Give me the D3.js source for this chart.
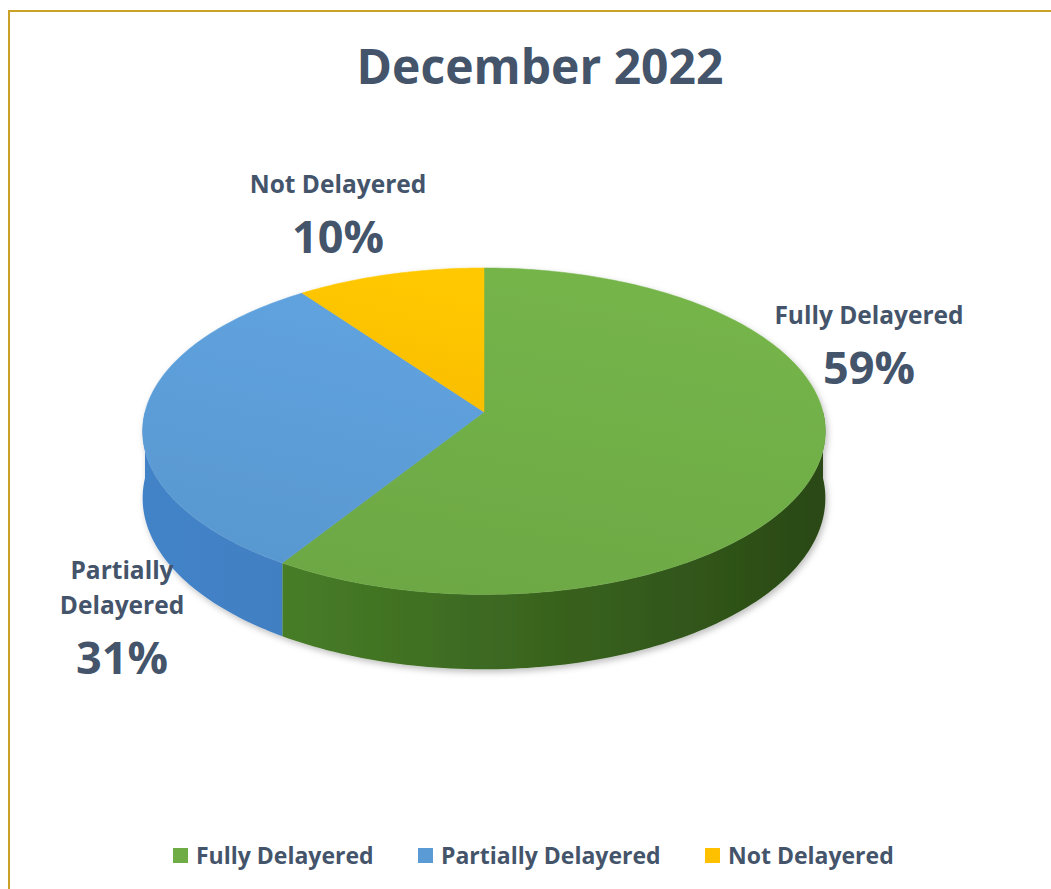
<!doctype html>
<html>
<head>
<meta charset="utf-8">
<style>
  body { margin: 0; background: #fff; }
  text { font-family: "Open Sans", Lato, sans-serif; font-weight: bold; fill: #44546A; }
</style>
</head>
<body>
<svg width="1051" height="889"></svg>
<script src="https://d3js.org/d3.v7.min.js"></script>
<script>
// data
var categories = ["Fully Delayered", "Partially Delayered", "Not Delayered"];
var values = [59, 31, 10];
var topColors = ["#6FAC46", "#5B9BD5", "#FFC000"];
var sideColors = [["#4f8a2b", "#2a4916"], ["#4383c8", "#3a70ab"], ["#c99700", "#a87e00"]];
var labelLines = [["Fully Delayered"], ["Partially", "Delayered"], ["Not Delayered"]];
var title = "December 2022";

var svg = d3.select("svg");
var defs = svg.append("defs");

// frame
svg.append("rect")
    .attr("x", 9).attr("y", 11)
    .attr("width", 1100).attr("height", 1000)
    .attr("fill", "none")
    .attr("stroke", "#C9A227")
    .attr("stroke-width", 2);

svg.append("text")
    .attr("x", 540).attr("y", 84)
    .attr("text-anchor", "middle")
    .style("font-size", "48px")
    .text(title);

// pie geometry, with a little perspective (back narrower than front)
var cx = 484, cy = 412, rx = 339, ry = 161, depth = 66, D = 8.5;

function pt(a, down) {
  var s = D / (D + Math.cos(a));
  return [cx + rx * Math.sin(a) * s, cy - ry * Math.cos(a) * s + (down ? depth * s : 0)];
}

function arcPts(a0, a1, down) {
  var n = Math.max(2, Math.ceil(Math.abs(a1 - a0) / 0.02));
  return d3.range(n + 1).map(function(k) { return pt(a0 + (a1 - a0) * k / n, down); });
}

var line = d3.line();
var pie = d3.pie().sort(null).value(function(d) { return d; });
var arcs = pie(values);

// gradients
arcs.forEach(function(d, i) {
  var g = defs.append("linearGradient").attr("id", "side" + i)
      .attr("gradientUnits", "userSpaceOnUse")
      .attr("x1", cx - rx).attr("y1", 0).attr("x2", cx + rx).attr("y2", 0);
  g.append("stop").attr("offset", "0%").attr("stop-color", sideColors[i][0]);
  g.append("stop").attr("offset", "100%").attr("stop-color", sideColors[i][1]);

  var t = defs.append("linearGradient").attr("id", "top" + i)
      .attr("x1", "30%").attr("y1", "0%").attr("x2", "0%").attr("y2", "100%");
  t.append("stop").attr("offset", "0%").attr("stop-color", d3.color(topColors[i]).brighter(0.12));
  t.append("stop").attr("offset", "100%").attr("stop-color", d3.color(topColors[i]).darker(0.08));
});

var shadow = defs.append("filter").attr("id", "shadow")
    .attr("x", "-10%").attr("y", "-10%").attr("width", "120%").attr("height", "130%");
shadow.append("feDropShadow").attr("dx", 2).attr("dy", 3).attr("stdDeviation", 3)
    .attr("flood-color", "#000").attr("flood-opacity", 0.25);

var chart = svg.append("g").attr("filter", "url(#shadow)");

// outer walls (front half only)
arcs.forEach(function(d, i) {
  var s = Math.max(d.startAngle, Math.PI / 2);
  var e = Math.min(d.endAngle, 3 * Math.PI / 2);
  if (s >= e) return;
  var pts = arcPts(s, e, false).concat(arcPts(e, s, true));
  chart.append("path")
      .attr("d", line(pts) + "Z")
      .attr("fill", "url(#side" + i + ")");
});

// top faces
arcs.forEach(function(d, i) {
  var pts = [[cx, cy]].concat(arcPts(d.startAngle, d.endAngle, false));
  chart.append("path")
      .attr("d", line(pts) + "Z")
      .attr("fill", "url(#top" + i + ")")
      .attr("stroke", "url(#top" + i + ")")
      .attr("stroke-width", 0.5);
});

// data labels
var labelPos = [[869, 315], [122, 570], [338, 184]];
arcs.forEach(function(d, i) {
  var lines = labelLines[i];
  var g = svg.append("g").attr("transform", "translate(" + labelPos[i] + ")");
  lines.forEach(function(l, j) {
    g.append("text").attr("y", j * 35 + 9).attr("text-anchor", "middle")
        .style("font-size", "24.5px").text(l);
  });
  g.append("text").attr("y", (lines.length - 1) * 35 + 69).attr("text-anchor", "middle")
      .style("font-size", "45px").text(values[i] + "%");
});

// legend
var legendX = [173, 418, 705];
var legend = svg.append("g").attr("transform", "translate(0,856)");
categories.forEach(function(c, i) {
  legend.append("rect").attr("x", legendX[i]).attr("y", -8).attr("width", 15).attr("height", 15)
      .attr("fill", topColors[i]);
  legend.append("text").attr("x", legendX[i] + 23).attr("y", 8)
      .style("font-size", "23px").text(c);
});
</script>
</body>
</html>
